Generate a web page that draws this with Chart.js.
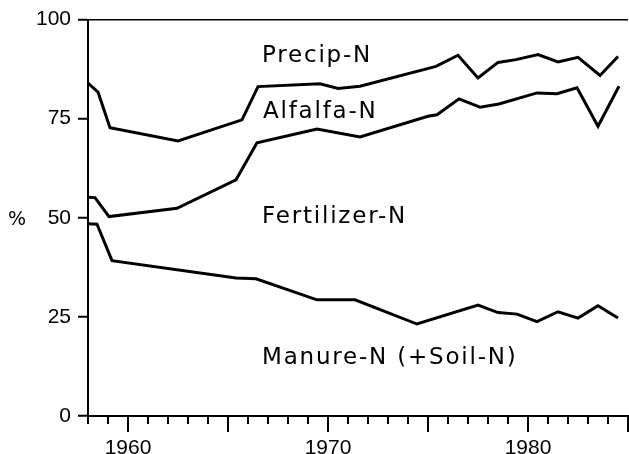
<!DOCTYPE html>
<html>
<head>
<meta charset="utf-8">
<script src="https://cdn.jsdelivr.net/npm/chart.js@4"></script>
<style>
	html, body { margin: 0; padding: 0; background: #fff; overflow: hidden; }
	#wrap { width: 629px; height: 454px; }
	canvas { display: block; }
</style>
</head>
<body>
<div id="wrap"><canvas id="share" width="629" height="454"></canvas></div>
<script>
// boundary between Precip-N and Alfalfa-N
const precipYears = [1958.0, 1958.5, 1959.1, 1962.5, 1965.7, 1966.5, 1969.6, 1970.5, 1971.6, 1975.4, 1976.5, 1977.5, 1978.5, 1979.4, 1980.5, 1981.5, 1982.5, 1983.6, 1984.5];
const precipLine  = [84.0, 81.7, 72.7, 69.4, 74.7, 83.1, 83.8, 82.6, 83.2, 88.2, 91.0, 85.3, 89.2, 89.9, 91.2, 89.3, 90.5, 85.9, 90.7];

// boundary between Alfalfa-N and Fertilizer-N
const alfalfaYears = [1958.0, 1958.35, 1959.05, 1962.45, 1965.4, 1966.45, 1969.45, 1971.6, 1975.0, 1975.45, 1976.55, 1977.6, 1978.55, 1980.45, 1981.45, 1982.45, 1983.5, 1984.55];
const alfalfaLine  = [55.2, 55.1, 50.3, 52.4, 59.6, 68.9, 72.4, 70.4, 75.6, 76.0, 80.0, 77.9, 78.7, 81.5, 81.3, 82.8, 73.1, 83.2];

// boundary between Fertilizer-N and Manure-N
const fertYears = [1958.0, 1958.45, 1959.2, 1965.4, 1966.4, 1969.45, 1971.35, 1974.45, 1977.5, 1978.5, 1979.45, 1980.45, 1981.5, 1982.5, 1983.5, 1984.5];
const fertLine  = [48.5, 48.4, 39.2, 34.8, 34.6, 29.3, 29.3, 23.2, 28.0, 26.1, 25.7, 23.8, 26.3, 24.7, 27.8, 24.7];

const yTicks = [0, 25, 50, 75, 100];
const xLabelYears = [1960, 1970, 1980];

const areaNames = ['Precip-N', 'Alfalfa-N', 'Fertilizer-N', 'Manure-N (+Soil-N)'];
const nameAtYear = [1966.7, 1966.75, 1966.7, 1966.7];
const nameAtPct  = [89.2, 75.3, 48.6, 13.1];

function pts(xs, ys){
	return xs.map((x, i) => ({x: x, y: ys[i]}));
}

function lineSet(label, xs, ys){
	return {
		label: label,
		data: pts(xs, ys),
		borderColor: '#000',
		borderWidth: 3,
		pointRadius: 0,
		tension: 0,
		fill: false
	};
}

const extras = {
	id: 'extras',
	afterDraw(chart){
		const c = chart.ctx;
		const xs = chart.scales.x;
		const ys = chart.scales.y;
		c.save();
		c.strokeStyle = '#000';
		c.lineWidth = 2;
		xs.ticks.forEach(t => {
			const px = Math.round(xs.getPixelForValue(t.value));
			const len = t.value % 5 === 0 ? 16 : 8;
			c.beginPath();
			c.moveTo(px, ys.bottom);
			c.lineTo(px, ys.bottom + len);
			c.stroke();
		});
		c.fillStyle = '#000';
		c.textBaseline = 'alphabetic';
		c.font = '23px "DejaVu Sans"';
		c.letterSpacing = '1.8px';
		areaNames.forEach((s, i) => {
			c.fillText(s, xs.getPixelForValue(nameAtYear[i]), ys.getPixelForValue(nameAtPct[i]));
		});
		c.letterSpacing = '0px';
		c.font = '19px "DejaVu Sans"';
		c.fillText('%', 8, ys.getPixelForValue(48.3));
		c.restore();
	}
};

const ctx = document.getElementById('share').getContext('2d');
const chart = new Chart(ctx, {
	type: 'line',
	data: {
		datasets: [
			lineSet('Precip', precipYears, precipLine),
			lineSet('Alfalfa', alfalfaYears, alfalfaLine),
			lineSet('Fertilizer', fertYears, fertLine)
		]
	},
	options: {
		responsive: false,
		animation: false,
		layout: {
			padding: {top: 18, right: 1, left: 0, bottom: 0}
		},
		plugins: {
			legend: { display: false },
			tooltip: { enabled: false }
		},
		scales: {
			x: {
				type: 'linear',
				min: 1958,
				max: 1985,
				afterFit(scale){
					scale.height = 38;
					scale.paddingLeft = 0;
					scale.paddingRight = 0;
				},
				border: { color: '#000', width: 2 },
				grid: { drawOnChartArea: false, drawTicks: false },
				ticks: {
					stepSize: 1,
					autoSkip: false,
					maxRotation: 0,
					padding: 20,
					color: '#000',
					font: { family: 'Liberation Sans', size: 21 },
					callback: v => xLabelYears.includes(v) ? String(v) : ''
				}
			},
			y: {
				min: 0,
				max: 100,
				afterFit(scale){ scale.width = 88; },
				afterBuildTicks(scale){ scale.ticks = yTicks.map(v => ({value: v})); },
				border: { color: '#000', width: 2 },
				grid: {
					color: c => c.tick && c.tick.value === 100 ? '#000' : 'rgba(0,0,0,0)',
					lineWidth: 1.5,
					tickColor: '#000',
					tickWidth: 2,
					tickLength: 10
				},
				ticks: {
					padding: 7,
					color: '#000',
					font: { family: 'Liberation Sans', size: 21 }
				}
			}
		}
	},
	plugins: [extras]
});
</script>
</body>
</html>
